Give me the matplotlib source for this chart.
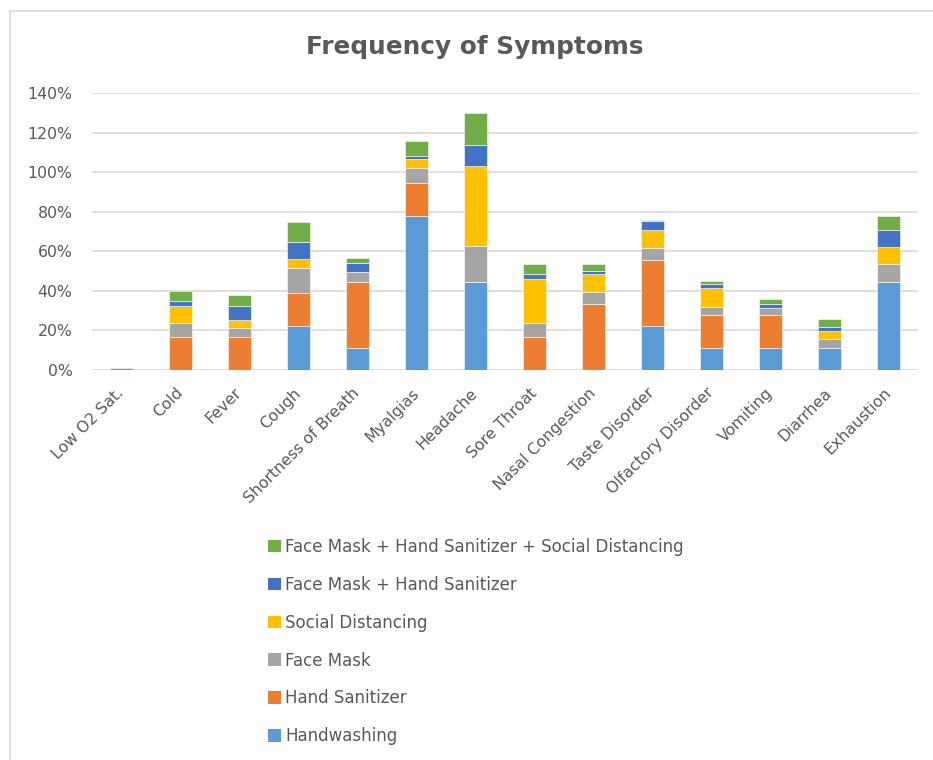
import matplotlib
matplotlib.use("Agg")
import matplotlib.pyplot as plt
from matplotlib.patches import Patch
from matplotlib.lines import Line2D
from matplotlib.ticker import FuncFormatter
import numpy as np

categories = ["Low O2 Sat.", "Cold", "Fever", "Cough", "Shortness of Breath", "Myalgias",
              "Headache", "Sore Throat", "Nasal Congestion", "Taste Disorder",
              "Olfactory Disorder", "Vomiting", "Diarrhea", "Exhaustion"]

series_names = ["Handwashing", "Hand Sanitizer", "Face Mask", "Social Distancing",
                "Face Mask + Hand Sanitizer", "Face Mask + Hand Sanitizer + Social Distancing"]

handwashing       = [0.0, 0.0, 0.0, 22.2, 11.1, 77.8, 44.4, 0.0, 0.0, 22.2, 11.1, 11.1, 11.1, 44.4]
hand_sanitizer    = [0.0, 16.7, 16.7, 16.7, 33.3, 16.7, 0.0, 16.7, 33.3, 33.3, 16.7, 16.7, 0.0, 0.0]
face_mask         = [0.0, 6.8, 4.2, 12.7, 5.1, 7.8, 18.1, 6.8, 5.9, 5.9, 4.2, 3.4, 4.2, 9.3]
social_distancing = [0.0, 8.6, 4.4, 4.4, 0.0, 4.2, 40.8, 22.3, 9.3, 9.3, 9.3, 0.0, 4.2, 8.6]
fm_hs             = [0.0, 2.7, 6.8, 8.5, 4.4, 1.7, 10.3, 2.5, 1.7, 4.4, 1.9, 1.9, 1.9, 8.6]
fm_hs_sd          = [1.1, 5.1, 5.9, 10.3, 2.5, 7.8, 16.2, 5.2, 3.4, 0.8, 1.7, 2.5, 4.2, 6.8]

values = [handwashing, hand_sanitizer, face_mask, social_distancing, fm_hs, fm_hs_sd]
colors = ["#5B9BD5", "#ED7D31", "#A5A5A5", "#FFC000", "#4472C4", "#70AD47"]

W, H = 933, 760
fig = plt.figure(figsize=(W / 100, H / 100), dpi=100)
fig.patch.set_facecolor("white")

# chart border (top and left visible)
fig.add_artist(Line2D([9.5 / W, 9.5 / W], [0, 1 - 11 / H], transform=fig.transFigure,
                      color="#D9D9D9", lw=1.2))
fig.add_artist(Line2D([9.5 / W, 1], [1 - 11 / H, 1 - 11 / H], transform=fig.transFigure,
                      color="#D9D9D9", lw=1.2))

left, right = 92 / W, 918 / W
top, bottom = 1 - 93.3 / H, 1 - 369.7 / H
ax = fig.add_axes([left, bottom, right - left, top - bottom])

x = np.arange(len(categories))
base = np.zeros(len(categories))
handles = []
for name, vals, c in zip(series_names, values, colors):
    v = np.array(vals)
    ax.bar(x, v, bottom=base, width=0.39, color=c, edgecolor="white", linewidth=0.4, zorder=3)
    base += v
    handles.append(Patch(facecolor=c, edgecolor="none", label=name))

ax.set_xlim(-0.5, len(categories) - 0.5)
ax.set_ylim(0, 140)
ax.set_yticks(np.arange(0, 141, 20))
ax.yaxis.set_major_formatter(FuncFormatter(lambda v, p: f"{int(v)}%"))
ax.grid(axis="y", color="#D9D9D9", linewidth=1.2, zorder=0)
ax.set_axisbelow(True)
for s in ax.spines.values():
    s.set_visible(False)
ax.tick_params(axis="both", length=0, colors="#595959", labelsize=11.3)
ax.tick_params(axis="y", pad=14)
ax.set_xticks(x)
ax.set_xticklabels(categories, rotation=45, ha="right", va="center",
                   rotation_mode="anchor", color="#595959", fontsize=11.3)
ax.tick_params(axis="x", pad=15)

fig.text(475 / W, 1 - 47 / H, "Frequency of Symptoms", ha="center", va="center",
         fontsize=17.8, fontweight="bold", color="#595959")

leg = fig.legend(handles=handles[::-1], loc="upper left",
                 bbox_to_anchor=(268 / W, 1 - 538 / H), frameon=False,
                 fontsize=12, labelcolor="#595959", handlelength=0.78, handleheight=0.78,
                 handletextpad=0.25, labelspacing=1.19, borderaxespad=0, borderpad=0)

fig.savefig("out.png", dpi=100, facecolor="white")
